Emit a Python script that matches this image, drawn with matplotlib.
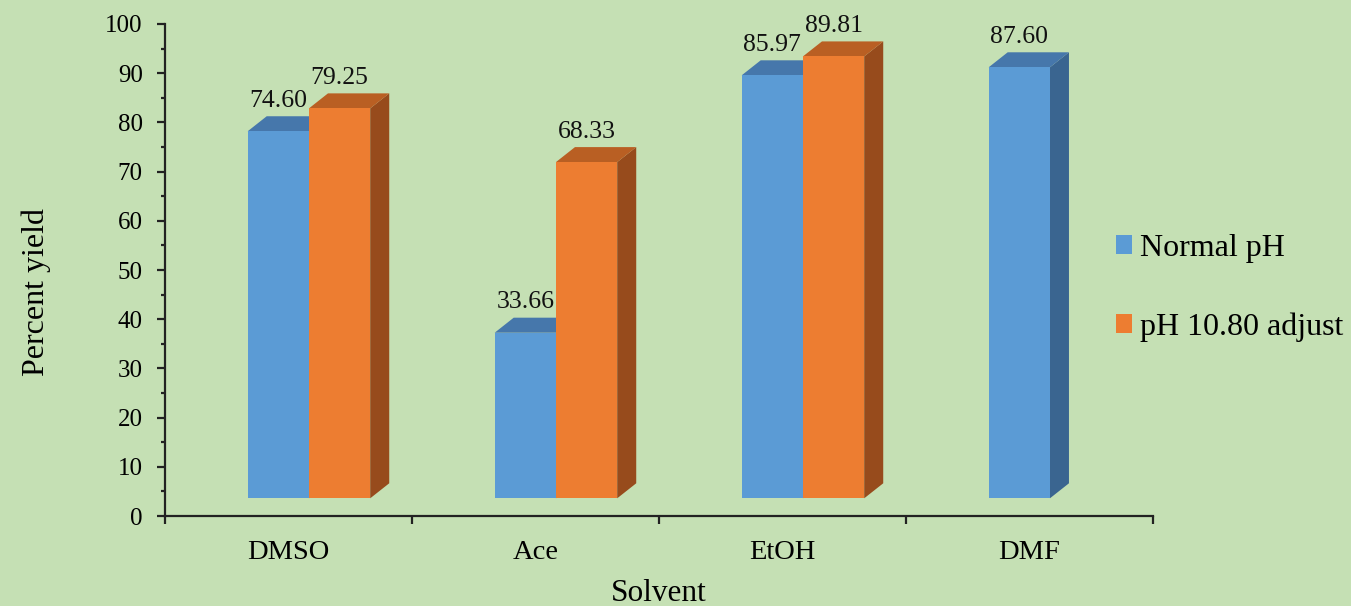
import matplotlib
matplotlib.use("Agg")
import matplotlib.pyplot as plt
from matplotlib.patches import Polygon, Patch
from matplotlib.ticker import MultipleLocator

# Data
solvents = ["DMSO", "Ace", "EtOH", "DMF"]
normal_ph = [74.60, 33.66, 85.97, 87.60]
adjusted_ph = [79.25, 68.33, 89.81, None]
series_names = ["Normal pH", "pH 10.80 adjust"]

plt.rcParams["font.family"] = ["Liberation Serif", "DejaVu Serif"]

BG = "#C5E0B4"
FRONT = ["#5B9BD5", "#ED7D31"]
TOP = ["#4677AB", "#B95F23"]
SIDE = ["#3A6590", "#974B1C"]

fig = plt.figure(figsize=(13.51, 6.06), dpi=100, facecolor=BG)
ax = fig.add_axes([0.1221, 0.1485, 0.7313, 0.8119])
ax.set_facecolor(BG)

ax.set_xlim(-0.5, len(solvents) - 0.5)
ax.set_ylim(0, 100)

# pseudo-3D geometry (data units)
base = 3.6          # floor of the front faces
width = 0.248       # bar width
depth_x = 0.077     # receding offset, x
depth_y = 3.05      # receding offset, y
left_offsets = [-0.165, 0.083]


def draw_box(x0, val, k):
    x1 = x0 + width
    y0 = base
    y1 = base + val
    side = Polygon([(x1, y0), (x1 + depth_x, y0 + depth_y),
                    (x1 + depth_x, y1 + depth_y), (x1, y1)],
                   closed=True, facecolor=SIDE[k], edgecolor="none", zorder=2)
    top = Polygon([(x0, y1), (x0 + depth_x, y1 + depth_y),
                   (x1 + depth_x, y1 + depth_y), (x1, y1)],
                  closed=True, facecolor=TOP[k], edgecolor="none", zorder=2)
    front = Polygon([(x0, y0), (x1, y0), (x1, y1), (x0, y1)],
                    closed=True, facecolor=FRONT[k], edgecolor="none", zorder=2)
    for p in (side, top, front):
        ax.add_patch(p)
    ax.text(x0 + width / 2, y1 + depth_y + 0.9, f"{val:.2f}",
            ha="center", va="bottom", fontsize=18.5, color="#111111", zorder=3)


for i, name in enumerate(solvents):
    for k, series in enumerate([normal_ph, adjusted_ph]):
        v = series[i]
        if v is None:
            continue
        draw_box(i + left_offsets[k], v, k)

# axes styling
for s in ["top", "right"]:
    ax.spines[s].set_visible(False)
for s in ["left", "bottom"]:
    ax.spines[s].set_color("#222222")
    ax.spines[s].set_linewidth(1.6)
    ax.spines[s].set_zorder(4)

ax.yaxis.set_major_locator(MultipleLocator(10))
ax.yaxis.set_minor_locator(MultipleLocator(5))
ax.tick_params(axis="y", which="major", direction="out", length=6, width=1.6,
               color="#222222", labelsize=18, pad=10)
ax.tick_params(axis="y", which="minor", direction="out", length=3, width=1.6,
               color="#222222")

# category labels centred, ticks on category boundaries
ax.set_xticks([i - 0.5 for i in range(len(solvents) + 1)])
ax.set_xticklabels([])
ax.set_xticks(range(len(solvents)), minor=True)
ax.set_xticklabels(solvents, minor=True)
ax.tick_params(axis="x", which="major", direction="out", length=6, width=1.6,
               color="#222222")
ax.tick_params(axis="x", which="minor", length=0, labelsize=20.5, pad=17)

ax.set_xlabel("Solvent", fontsize=22.5, labelpad=10)
ax.set_ylabel("Percent yield", fontsize=23)
ax.yaxis.set_label_coords(-0.1155, 0.455)

handles = [Patch(facecolor=FRONT[k], edgecolor="none") for k in range(2)]
fig.legend(handles, series_names, loc="center left",
           bbox_to_anchor=(0.8165, 0.525), frameon=False, fontsize=23,
           handlelength=0.5, handleheight=0.5, handletextpad=0.25,
           labelspacing=1.55, borderaxespad=0)

fig.savefig("out.png", dpi=100, facecolor=BG)
